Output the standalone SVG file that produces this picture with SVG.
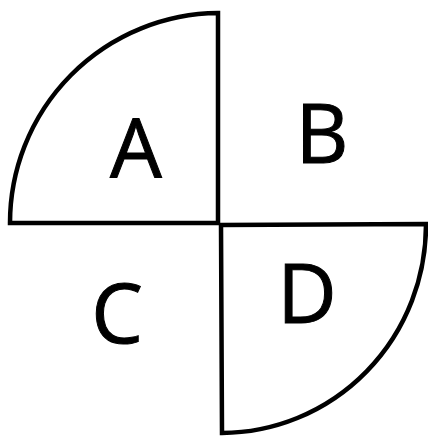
<svg xmlns="http://www.w3.org/2000/svg" width="428" height="437" viewBox="0 0 428 437">
<style>
.shape{fill:none;stroke:#000;stroke-width:4.5;stroke-linejoin:miter}
.lbl{font-family:"Open Sans","Liberation Sans",sans-serif;font-size:82px;fill:#000;stroke:#000;stroke-width:1;text-anchor:middle}
</style>
<rect width="428" height="437" fill="#fff"/>
<g id="A">
<path class="shape" d="M218,223 L218,13 A210,210 0 0 0 10,223 Z"/>
<text class="lbl" x="136" y="178">A</text>
</g>
<g id="B">
<text class="lbl" x="322" y="163">B</text>
</g>
<g id="C">
<text class="lbl" x="117" y="343">C</text>
</g>
<g id="D">
<path class="shape" d="M221,225 L426,224 A205,208 0 0 1 222,433 Z"/>
<text class="lbl" x="307" y="323">D</text>
</g>
</svg>
